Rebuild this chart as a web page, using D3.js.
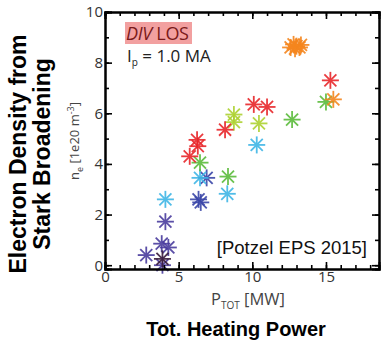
<!DOCTYPE html>
<html>
<head>
<meta charset="utf-8">
<script src="https://cdn.jsdelivr.net/npm/d3@7"></script>
<style>
html,body{margin:0;padding:0;background:#fff;}
svg{display:block;}
</style>
</head>
<body>
<svg id="chart" width="381" height="341"></svg>
<script>
// ---- data ----
const seriesNames = ["purple", "dark", "navy", "lightblue", "green", "yellowgreen", "red", "orange"];
const seriesColors = ["#4a3c9e", "#3a1c3c", "#3a46a8", "#3fb6e6", "#5cbc3c", "#aed232", "#e8262a", "#f5861e"];
const purpleX = [2.8, 3.85, 4.3, 4.1, 3.9];
const purpleY = [0.4, 0.85, 0.7, 1.72, 0.0];
const darkX = [3.9];
const darkY = [0.25];
const navyX = [6.35, 6.5, 6.9];
const navyY = [2.6, 2.48, 3.45];
const lightblueX = [4.1, 6.45, 8.3, 10.3];
const lightblueY = [2.6, 3.45, 2.82, 4.75];
const greenX = [6.45, 8.35, 12.7, 15.0];
const greenY = [4.05, 3.5, 5.75, 6.45];
const yellowgreenX = [8.75, 8.75, 10.45];
const yellowgreenY = [5.95, 5.65, 5.6];
const redX = [5.75, 6.3, 6.25, 8.15, 10.1, 11.0, 15.3];
const redY = [4.3, 4.7, 4.95, 5.35, 6.35, 6.25, 7.3];
const orangeX = [12.6, 12.8, 12.9, 13.0, 13.2, 13.3, 15.5];
const orangeY = [8.6, 8.72, 8.55, 8.65, 8.6, 8.7, 6.55];
const xTicks = [0, 5, 10, 15];
const yTicks = [0, 2, 4, 6, 8, 10];

const seriesData = [
  [purpleX, purpleY], [darkX, darkY], [navyX, navyY], [lightblueX, lightblueY],
  [greenX, greenY], [yellowgreenX, yellowgreenY], [redX, redY], [orangeX, orangeY]
];

// ---- layout ----
const L = 105, R = 379, T = 12, B = 269;
const svg = d3.select("#chart");
const x = d3.scaleLinear().domain([0, 18.6]).range([L, R]);
const y = d3.scaleLinear().domain([-0.15, 10]).range([B, T]);

// points
const g = svg.append("g");
const armR = 8.5;
seriesData.forEach((sd, i) => {
  const pts = sd[0].map((v, j) => ({x: v, y: sd[1][j]}));
  const stars = g.selectAll(null).data(pts).enter().append("g")
    .attr("transform", d => `translate(${x(d.x)},${y(d.y)})`)
    .attr("stroke", seriesColors[i]).attr("stroke-width", 1.8).attr("opacity", 0.9);
  [0, 45, 90, 135].forEach(a => {
    const rad = a * Math.PI / 180;
    stars.append("line")
      .attr("x1", -armR * Math.cos(rad)).attr("y1", -armR * Math.sin(rad))
      .attr("x2", armR * Math.cos(rad)).attr("y2", armR * Math.sin(rad));
  });
  stars.append("circle").attr("r", 1.8).attr("fill", seriesColors[i]).attr("stroke", "none");
});

// axes with inward ticks
const tickFont = "'Open Sans', 'Noto Sans', sans-serif";
const axB = d3.axisBottom(x).tickValues(xTicks).tickSize(-7).tickPadding(2).tickFormat(d3.format("d"));
const axL = d3.axisLeft(y).tickValues(yTicks).tickSize(-7).tickPadding(2).tickFormat(d3.format("d"));
const axT = d3.axisTop(x).tickValues(xTicks).tickSize(-7).tickFormat("");
const axR = d3.axisRight(y).tickValues(yTicks).tickSize(-7).tickFormat("");
const minorX = d3.range(0, 19, 1);
const minorY = d3.range(0, 11, 1);
const mB = d3.axisBottom(x).tickValues(minorX).tickSize(-4).tickFormat("");
const mT = d3.axisTop(x).tickValues(minorX).tickSize(-4).tickFormat("");
const mL = d3.axisLeft(y).tickValues(minorY).tickSize(-4).tickFormat("");
const mR = d3.axisRight(y).tickValues(minorY).tickSize(-4).tickFormat("");

function styleAxis(sel) {
  sel.selectAll("path").attr("stroke", "#000").attr("stroke-width", 2);
  sel.selectAll("line").attr("stroke", "#000").attr("stroke-width", 1.6);
  sel.selectAll("text").attr("font-family", tickFont).attr("font-size", 15).attr("fill", "#333");
}
[[mB, `0,${B}`], [mT, `0,${T}`], [mL, `${L},0`], [mR, `${R},0`],
 [axB, `0,${B}`], [axT, `0,${T}`], [axL, `${L},0`], [axR, `${R},0`]].forEach(([ax, tr]) => {
  svg.append("g").attr("transform", `translate(${tr})`).call(ax).call(styleAxis);
});

// y-axis label n_e [1e20 m^-3]
const yl = svg.append("text").attr("transform", `translate(79,141) rotate(-90)`)
  .attr("text-anchor", "middle").attr("font-family", tickFont).attr("font-size", 13).attr("fill", "#444");
yl.append("tspan").text("n");
yl.append("tspan").attr("font-size", 9).attr("dy", 4).text("e");
yl.append("tspan").attr("dy", -4).text(" [1e20 m");
yl.append("tspan").attr("font-size", 9).attr("dy", -5).text("-3");
yl.append("tspan").attr("dy", 5).text("]");

// x-axis label P_TOT [MW]
const xl = svg.append("text").attr("x", 248).attr("y", 305).attr("text-anchor", "middle")
  .attr("font-family", tickFont).attr("font-size", 16.5).attr("fill", "#444");
xl.append("tspan").text("P");
xl.append("tspan").attr("font-size", 10).attr("dy", 4).text("TOT");
xl.append("tspan").attr("dy", -4).text(" [MW]");

// big titles
const titleFont = "'Liberation Sans', Arial, sans-serif";
svg.append("text").attr("transform", "translate(26,154) rotate(-90)").attr("text-anchor", "middle")
  .attr("font-family", titleFont).attr("font-weight", "bold").attr("font-size", 23).attr("fill", "#000")
  .text("Electron Density from");
svg.append("text").attr("transform", "translate(50,154) rotate(-90)").attr("text-anchor", "middle")
  .attr("font-family", titleFont).attr("font-weight", "bold").attr("font-size", 23).attr("fill", "#000")
  .text("Stark Broadening");
svg.append("text").attr("x", 236).attr("y", 336).attr("text-anchor", "middle")
  .attr("font-family", titleFont).attr("font-weight", "bold").attr("font-size", 20).attr("fill", "#000")
  .text("Tot. Heating Power");

// annotations
svg.append("rect").attr("x", 125).attr("y", 22).attr("width", 67).attr("height", 22).attr("fill", "#f2a0a0");
const dl = svg.append("text").attr("x", 126).attr("y", 40).attr("font-family", tickFont)
  .attr("font-size", 18).attr("fill", "#7a1a1a").attr("letter-spacing", -0.3);
dl.append("tspan").attr("font-style", "italic").text("DIV");
dl.append("tspan").text(" LOS");
const ip = svg.append("text").attr("x", 127).attr("y", 62).attr("font-family", tickFont)
  .attr("font-size", 17).attr("fill", "#222");
ip.append("tspan").text("I");
ip.append("tspan").attr("font-size", 10).attr("dy", 4).text("p");
ip.append("tspan").attr("dy", -4).text(" = 1.0 MA");

svg.append("text").attr("x", 367).attr("y", 254).attr("text-anchor", "end")
  .attr("font-family", titleFont).attr("font-size", 18.5).attr("fill", "#111")
  .text("[Potzel EPS 2015]");
</script>
</body>
</html>
